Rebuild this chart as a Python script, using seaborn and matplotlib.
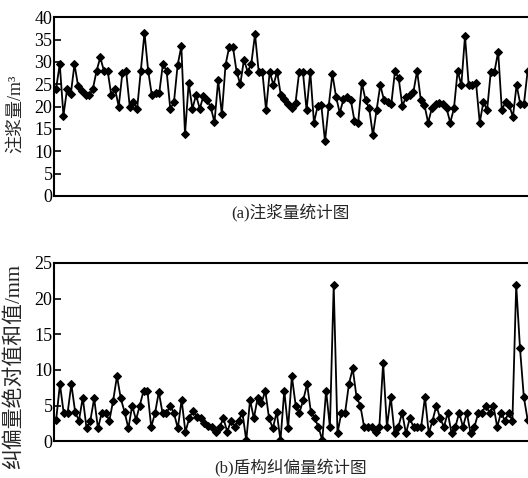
import numpy as np
import pandas as pd
import seaborn as sns
import matplotlib
matplotlib.use("Agg")
import matplotlib.pyplot as plt

# grouting volume per ring (m3)
grout = [24, 29.5, 18, 24, 22.8, 29.5, 24.5, 23.5, 22.5, 22.5, 24, 28, 31, 28, 28, 22.5,
         24, 20, 27.5, 28, 20, 21, 19.5, 28, 36.5, 28, 22.5, 23, 23, 29.5, 28,
         19.5, 21, 29.3, 33.5, 13.8, 25.3, 19.5, 22.6, 19.5, 22.4, 21.5, 19.8, 16.5, 25.9,
         18.3, 29.3, 33.4, 33.4, 27.8, 25, 30.5, 27.8, 29.6, 36.2, 27.8, 27.8, 19.2, 27.8,
         24.8, 27.8, 22.6, 21.6, 20.6, 19.6, 20.9, 27.8, 27.8, 19.2, 27.8, 16.4, 20.1, 20.3,
         12.2, 20.1, 27.3,
         22.2, 18.6, 21.6, 22.2, 21.5, 16.8, 16.4, 25.3, 21.5, 19.6, 13.6, 19.2, 24.8, 21.5,
         21.1, 20.6, 28, 26.3, 20.1, 22.2, 22.6, 23.3, 28, 21.5, 20.3, 16.4, 19.6, 20.6,
         20.9, 20.6, 19.6, 16.4, 19.6, 28, 24.8, 35.8, 24.8, 24.8, 25.2, 16.4, 21.1, 19.2,
         27.8, 27.8, 32.3, 19.2, 21.1, 20.3, 17.7, 24.8, 20.6, 20.6, 28]

# sum of absolute deviation correction (mm)
dev = [3.0, 8.0, 3.9, 3.9, 8.0, 4.1, 2.9, 6.1, 1.8, 2.9, 6.0, 1.8, 4.0, 4.0, 2.9, 5.7,
       9.1, 6.0, 4.1, 1.8, 5.0, 3.0, 5.0, 7.1, 7.1, 2.0, 3.9, 6.9, 3.9, 3.9, 5.0, 3.9,
       1.8, 5.8, 1.3, 3.2, 4.3, 3.4, 3.2, 2.5, 2.2, 2.0, 1.3, 2.0, 3.2, 1.3, 2.9, 2.0,
       2.9, 4.0, 0.1, 5.8, 3.2, 6.1, 5.3, 7.1, 3.2, 1.8, 4.1, 0.1, 7.1, 1.8, 9.1, 5.0,
       4.0, 5.8, 8.0, 4.1, 3.2, 2.0, 0.1, 7.1, 2.0, 21.9, 1.1, 4.0,
       4.0, 8.0, 10.2, 6.2, 5.0, 2.0, 2.0, 2.0, 1.3, 2.0, 11.0, 2.0, 6.2, 1.1, 2.0, 4.0,
       1.1, 3.2, 2.0, 2.0, 2.0, 6.2, 1.1, 2.9, 5.0, 3.2, 2.0, 4.0, 1.1, 2.0, 4.0, 2.0,
       4.0, 1.1, 2.0, 3.9, 4.0, 5.0, 4.0, 5.0, 2.0, 4.0, 2.9, 3.9, 2.9, 21.9, 13.0, 6.2, 3.0]

top = pd.DataFrame({"ring": np.arange(len(grout)), "val": grout})
bot = pd.DataFrame({"ring": np.arange(len(dev)), "val": dev})

serif = ["Liberation Serif", "DejaVu Serif", "Noto Sans CJK SC"]
sns.set_style("ticks")
plt.rcParams["font.family"] = serif
plt.rcParams["text.color"] = "black"

fig = plt.figure(figsize=(5.28, 4.78), dpi=100)
ax1 = fig.add_axes([0.102, 0.590, 0.898, 0.374])
ax2 = fig.add_axes([0.102, 0.077, 0.898, 0.373])

panels = [(ax1, top, 40, "注浆量/m³", 13, 0.46, "(a)注浆量统计图", 6),
          (ax2, bot, 25, "纠偏量绝对值和值/mm", 15, 0.42, "(b)盾构纠偏量统计图", 13)]

for ax, df, ymax, lab, lsize, ly, cap, cpad in panels:
    sns.lineplot(data=df, x="ring", y="val", ax=ax, color="black", linewidth=1.3,
                 marker="D", markersize=4, markeredgecolor="black")
    ax.set_ylim(0, ymax)
    ax.set_yticks(np.arange(0, ymax + 1, 5))
    ax.set_xlim(-0.6, len(df) - 0.9)
    ax.set_xticks([])
    ax.tick_params(axis="y", direction="in", length=5, width=1.2, labelsize=13,
                   pad=1, colors="black")
    for s in ["left", "bottom", "top"]:
        ax.spines[s].set_linewidth(1.5)
        ax.spines[s].set_color("black")
    ax.spines["right"].set_visible(False)
    ax.set_ylabel(lab, fontsize=lsize, family=serif)
    ax.yaxis.set_label_coords(-0.063, ly)
    ax.set_xlabel(cap, fontsize=12, labelpad=cpad, family=serif)
    for t in ax.get_yticklabels():
        t.set_family(serif)

fig.savefig("out.png", dpi=100)
